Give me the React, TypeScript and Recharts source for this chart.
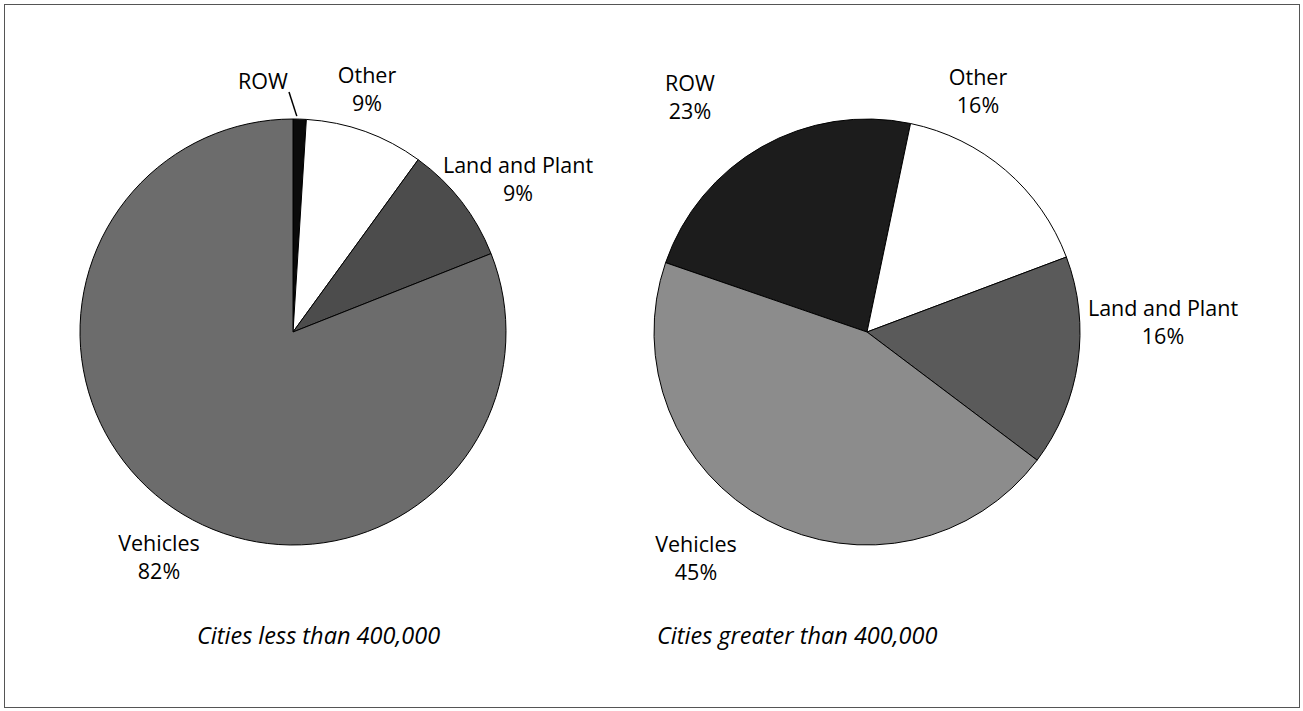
import React from "react"
import { Cell, Pie, PieChart } from "recharts"

const sectors = ["ROW", "Other", "Land and Plant", "Vehicles"]
const smallCityShares = [1, 9, 9, 81]
const largeCityShares = [23, 16, 16, 45]
const smallCityPercents = ["", "9%", "9%", "82%"]
const largeCityPercents = ["23%", "16%", "16%", "45%"]
const titles = ["Cities less than 400,000", "Cities greater than 400,000"]

const smallColors = ["#0a0a0a", "#ffffff", "#4c4c4c", "#6c6c6c"]
const largeColors = ["#1c1c1c", "#ffffff", "#5a5a5a", "#8c8c8c"]

// label anchor (centre x, first baseline) relative to pie centre
const smallLabelPos = [[-30, -243], [74, -249], [225, -159], [-134, 219]]
const largeLabelPos = [[-177, -241], [111, -247], [296, -16], [-171, 220]]

const FONT = "'Open Sans', sans-serif"
const R = 213

const toRows = (shares: number[], percents: string[]) =>
    sectors.map((name, i) => ({ name, value: shares[i], percent: percents[i] }))

const smallData = toRows(smallCityShares, smallCityPercents)
const largeData = toRows(largeCityShares, largeCityPercents)

const makeLabel = (pos: number[][], leader: boolean) => (props: any) => {
    const { cx, cy, index, payload, midAngle, outerRadius } = props
    const [dx, dy] = pos[index]
    const x = cx + dx
    const y = cy + dy
    const rad = (Math.PI / 180) * midAngle
    return (
        <g key={`lbl-${index}`}>
            <text x={x} y={y} textAnchor="middle" fontFamily={FONT} fontSize={21.5} fill="#000">
                {payload.name}
            </text>
            {payload.percent && (
                <text x={x} y={y + 28} textAnchor="middle" fontFamily={FONT} fontSize={21.5} fill="#000">
                    {payload.percent}
                </text>
            )}
            {leader && index === 0 && (
                <line
                    x1={cx - 4}
                    y1={cy - 240}
                    x2={cx + Math.cos(rad) * (outerRadius + 3) - 3}
                    y2={cy - Math.sin(rad) * (outerRadius + 3)}
                    stroke="#000"
                    strokeWidth={1.5}
                />
            )}
        </g>
    )
}

const titleStyle = (left: number): React.CSSProperties => ({
    position: "absolute",
    left,
    top: 619,
    fontFamily: FONT,
    fontStyle: "italic",
    fontSize: 23.5,
    color: "#000",
    whiteSpace: "nowrap",
})

const App = () => (
    <div style={{ position: "absolute", left: 0, top: 0, width: 1303, height: 711, background: "#fff" }}>
        <div
            style={{
                position: "absolute",
                left: 4,
                top: 4,
                width: 1294,
                height: 702,
                border: "1px solid #555",
            }}
        />
        <div style={{ position: "absolute", left: 0, top: 0 }}>
            <PieChart width={1303} height={711} margin={{ top: 0, right: 0, bottom: 0, left: 0 }}>
                <Pie
                    data={smallData}
                    dataKey="value"
                    nameKey="name"
                    cx={293}
                    cy={332}
                    outerRadius={R}
                    startAngle={90}
                    endAngle={-270}
                    stroke="#000"
                    strokeWidth={1}
                    labelLine={false}
                    label={makeLabel(smallLabelPos, true)}
                    isAnimationActive={false}
                >
                    {smallData.map((d, i) => (
                        <Cell key={d.name} fill={smallColors[i]} />
                    ))}
                </Pie>
                <Pie
                    data={largeData}
                    dataKey="value"
                    nameKey="name"
                    cx={867}
                    cy={332}
                    outerRadius={R}
                    startAngle={161}
                    endAngle={-199}
                    stroke="#000"
                    strokeWidth={1}
                    labelLine={false}
                    label={makeLabel(largeLabelPos, false)}
                    isAnimationActive={false}
                >
                    {largeData.map((d, i) => (
                        <Cell key={d.name} fill={largeColors[i]} />
                    ))}
                </Pie>
            </PieChart>
        </div>
        <div style={titleStyle(197)}>{titles[0]}</div>
        <div style={titleStyle(657)}>{titles[1]}</div>
    </div>
)

export default App
